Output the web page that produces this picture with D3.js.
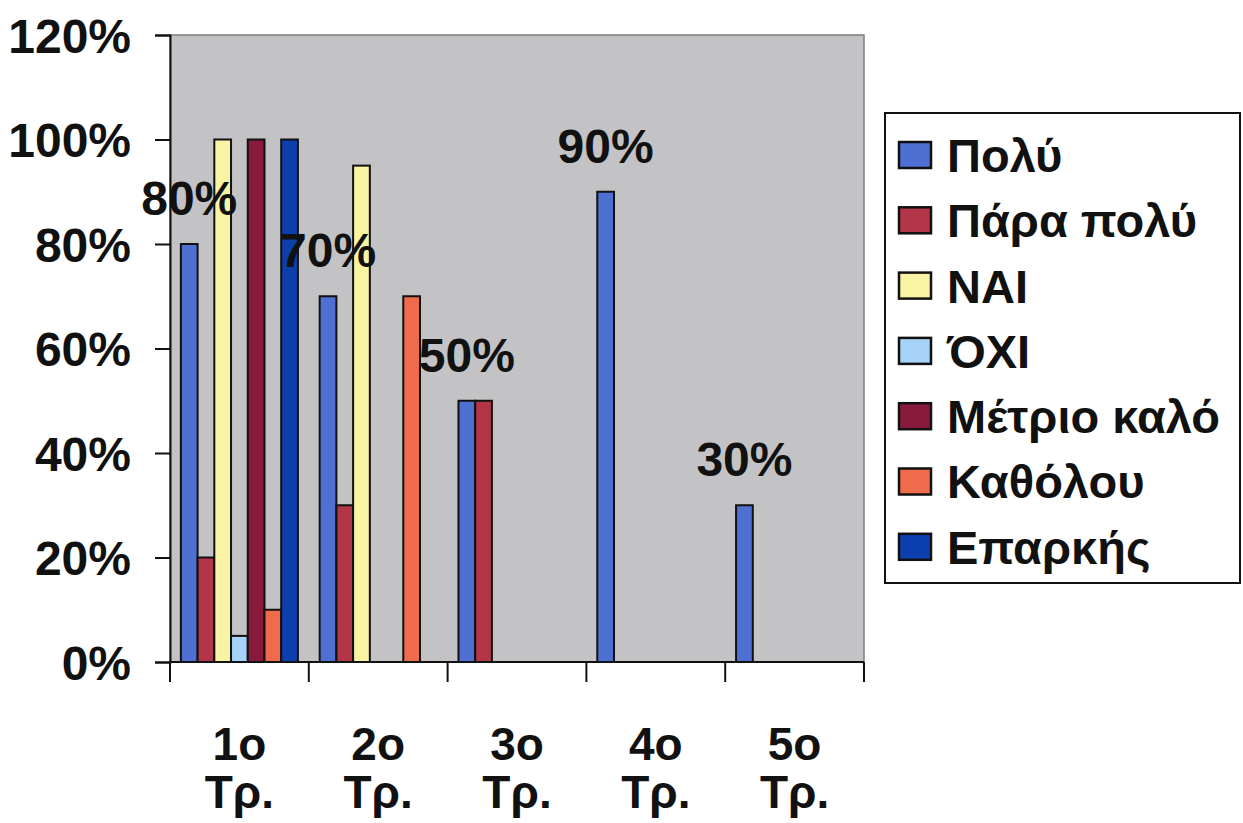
<!DOCTYPE html>
<html>
<head>
<meta charset="utf-8">
<script src="https://cdn.jsdelivr.net/npm/d3@7"></script>
<style>
  html, body { margin: 0; padding: 0; background: #ffffff; }
  svg { display: block; }
  text { font-family: "Liberation Sans", Arial, sans-serif; font-weight: bold; fill: #111; }
</style>
</head>
<body>
<svg id="chart" width="1243" height="823"></svg>
<script>
// ---- data ----
const categories = ["1ο Τρ.", "2ο Τρ.", "3ο Τρ.", "4ο Τρ.", "5ο Τρ."];
const seriesNames = ["Πολύ", "Πάρα πολύ", "ΝΑΙ", "ΌΧΙ", "Μέτριο καλό", "Καθόλου", "Επαρκής"];
const poly       = [0.80, 0.70, 0.50, 0.90, 0.30];
const paraPoly   = [0.20, 0.30, 0.50, 0.00, 0.00];
const nai        = [1.00, 0.95, 0.00, 0.00, 0.00];
const ochi       = [0.05, 0.00, 0.00, 0.00, 0.00];
const metrioKalo = [1.00, 0.00, 0.00, 0.00, 0.00];
const katholou   = [0.10, 0.70, 0.00, 0.00, 0.00];
const eparkis    = [1.00, 0.00, 0.00, 0.00, 0.00];
const seriesValues = [poly, paraPoly, nai, ochi, metrioKalo, katholou, eparkis];
const seriesColors = ["#4d70d2", "#b23648", "#f9f3a4", "#a6d2f8", "#8a1a3c", "#f06a4c", "#0c3fae"];
const yTicks = [0, 0.2, 0.4, 0.6, 0.8, 1.0, 1.2];
const labeledSeries = 0; // data labels shown for "Πολύ"

// ---- layout ----
const svg = d3.select("#chart");
const plot = { left: 170, right: 864, top: 35, bottom: 662 };

const x = d3.scaleBand().domain(categories).range([plot.left, plot.right]).paddingInner(0).paddingOuter(0);
const xs = d3.scaleBand().domain(seriesNames).range([0, x.bandwidth()]).paddingInner(0).paddingOuter(0.65);
const y = d3.scaleLinear().domain([0, 1.2]).range([plot.bottom, plot.top]);

// plot background
svg.append("rect")
  .attr("x", plot.left).attr("y", plot.top)
  .attr("width", plot.right - plot.left).attr("height", plot.bottom - plot.top)
  .attr("fill", "#c3c3c5").attr("stroke", "#7d7d7d").attr("stroke-width", 1.5);

// bars
const rows = [];
seriesNames.forEach((s, si) => {
  categories.forEach((c, ci) => {
    rows.push({ s, si, c, v: seriesValues[si][ci] });
  });
});
svg.append("g").selectAll("rect").data(rows.filter(d => d.v > 0)).join("rect")
  .attr("x", d => x(d.c) + xs(d.s))
  .attr("y", d => y(d.v))
  .attr("width", xs.bandwidth())
  .attr("height", d => y(0) - y(d.v))
  .attr("fill", d => seriesColors[d.si])
  .attr("stroke", "#111").attr("stroke-width", 2);

// y axis
const yAxis = d3.axisLeft(y).tickValues(yTicks).tickFormat(d3.format(".0%")).tickSize(15).tickPadding(24);
const gy = svg.append("g").attr("transform", `translate(${plot.left},0)`).call(yAxis);
gy.select(".domain").attr("stroke", "#111").attr("stroke-width", 2);
gy.selectAll(".tick line").attr("stroke", "#111").attr("stroke-width", 2);
gy.selectAll(".tick text").style("font-size", "48px").style("font-weight", "bold")
  .style("font-family", "'Liberation Sans', Arial, sans-serif").attr("fill", "#111").attr("dy", "0.36em");

// x axis: ticks at band boundaries
const edges = categories.map(c => x(c)).concat([x(categories[categories.length - 1]) + x.bandwidth()]);
const gx = svg.append("g").attr("transform", `translate(0,${plot.bottom})`);
gx.append("line").attr("x1", plot.left).attr("x2", plot.right).attr("y1", 0).attr("y2", 0)
  .attr("stroke", "#111").attr("stroke-width", 2);
gx.selectAll("line.tk").data(edges).join("line").attr("class", "tk")
  .attr("x1", d => d).attr("x2", d => d).attr("y1", 0).attr("y2", 20)
  .attr("stroke", "#111").attr("stroke-width", 2);
const catLabels = gx.selectAll("text.cat").data(categories).join("text").attr("class", "cat")
  .attr("text-anchor", "middle")
  .attr("x", d => x(d) + x.bandwidth() / 2)
  .style("font-size", "46px");
catLabels.each(function(d) {
  const parts = d.split(" ");
  const t = d3.select(this);
  t.append("tspan").attr("x", x(d) + x.bandwidth() / 2).attr("y", 98).text(parts[0]);
  t.append("tspan").attr("x", x(d) + x.bandwidth() / 2).attr("y", 146).text(parts[1]);
});

// data labels for "Πολύ"
svg.append("g").selectAll("text").data(rows.filter(d => d.si === labeledSeries)).join("text")
  .attr("x", d => x(d.c) + xs(d.s) + xs.bandwidth() / 2)
  .attr("y", d => y(d.v) - 29)
  .attr("text-anchor", "middle")
  .style("font-size", "48px")
  .text(d => d3.format(".0%")(d.v));

// legend
const leg = { x: 885, y: 113, w: 355, h: 470 };
svg.append("rect").attr("x", leg.x).attr("y", leg.y).attr("width", leg.w).attr("height", leg.h)
  .attr("fill", "#ffffff").attr("stroke", "#111").attr("stroke-width", 2);
const li = svg.append("g").selectAll("g").data(seriesNames).join("g")
  .attr("transform", (d, i) => `translate(${leg.x}, ${155 + i * 65.3})`);
li.append("rect").attr("x", 14).attr("y", -13).attr("width", 32).attr("height", 26)
  .attr("fill", (d, i) => seriesColors[i]).attr("stroke", "#111").attr("stroke-width", 2.5);
li.append("text").attr("x", 62).attr("y", 0).attr("dy", "0.36em")
  .style("font-size", "47px").text(d => d);
</script>
</body>
</html>
